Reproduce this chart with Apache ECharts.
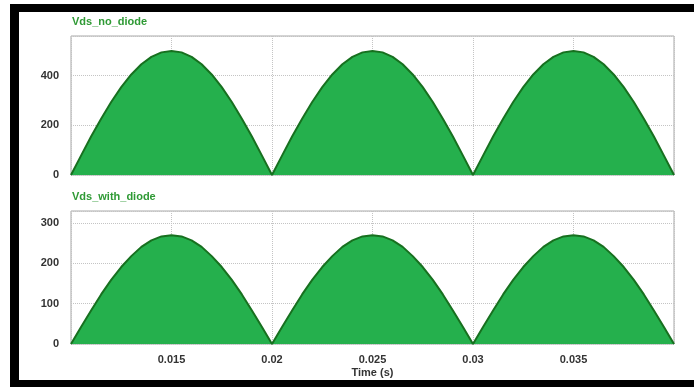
<!DOCTYPE html>
<html>
<head>
<meta charset="utf-8">
<script src="https://cdn.jsdelivr.net/npm/echarts@6/dist/echarts.min.js"></script>
<style>
  html, body { margin: 0; padding: 0; background: #fff; }
  #chart { width: 694px; height: 387px; }
</style>
</head>
<body>
<div id="chart"></div>
<script>
// Sample times (s), one sample every 0.5 ms over three half-cycles
const timeStart = 0.01;
const timeStep = 0.0005;

// Drain-source voltage without the diode (V)
const vdsNoDiode = [
  0, 78, 155, 227, 294, 354, 405, 446, 476, 494, 500, 494, 476, 446, 405, 354, 294, 227, 155, 78,
  0, 78, 155, 227, 294, 354, 405, 446, 476, 494, 500, 494, 476, 446, 405, 354, 294, 227, 155, 78,
  0, 78, 155, 227, 294, 354, 405, 446, 476, 494, 500, 494, 476, 446, 405, 354, 294, 227, 155, 78,
  0
];

// Drain-source voltage with the diode (V)
const vdsWithDiode = [
  0, 42, 83, 123, 159, 191, 218, 241, 257, 267, 270, 267, 257, 241, 218, 191, 159, 123, 83, 42,
  0, 42, 83, 123, 159, 191, 218, 241, 257, 267, 270, 267, 257, 241, 218, 191, 159, 123, 83, 42,
  0, 42, 83, 123, 159, 191, 218, 241, 257, 267, 270, 267, 257, 241, 218, 191, 159, 123, 83, 42,
  0
];

const panelTitles = ['Vds_no_diode', 'Vds_with_diode'];
const xTickLabels = ['0.015', '0.02', '0.025', '0.03', '0.035'];

const toPairs = (vals) => vals.map((v, i) => [+(timeStart + i * timeStep).toFixed(5), v]);

const fillColor = '#25b04d';
const lineColor = '#17701f';
const titleColor = '#2f9a35';
const labelStyle = { color: '#333', fontFamily: 'Liberation Sans, Arial, sans-serif', fontWeight: 'bold', fontSize: 11 };
const gridLine = { show: true, lineStyle: { color: '#c4c4c4', type: 'dotted', width: 1 } };

const chart = echarts.init(document.getElementById('chart'), null, { renderer: 'canvas' });

const xAxisBase = {
  type: 'value', min: 0.01, max: 0.04, interval: 0.005,
  axisLine: { show: false }, axisTick: { show: false },
  splitLine: gridLine
};
const yAxisBase = {
  type: 'value', min: 0,
  axisLine: { show: false }, axisTick: { show: false },
  splitLine: gridLine,
  axisLabel: Object.assign({ margin: 12, showMaxLabel: false }, labelStyle)
};

chart.setOption({
  backgroundColor: '#fff',
  animation: false,
  graphic: [
    { type: 'rect', shape: { x: 10, y: 4, width: 684, height: 8 }, style: { fill: '#000' } },
    { type: 'rect', shape: { x: 10, y: 4, width: 9, height: 383 }, style: { fill: '#000' } },
    { type: 'rect', shape: { x: 10, y: 380, width: 684, height: 7 }, style: { fill: '#000' } },
    { type: 'text', left: 72, top: 16, style: { text: panelTitles[0], fill: titleColor, font: 'bold 11px Liberation Sans, Arial, sans-serif' } },
    { type: 'text', left: 72, top: 191, style: { text: panelTitles[1], fill: titleColor, font: 'bold 11px Liberation Sans, Arial, sans-serif' } }
  ],
  grid: [
    { left: 71, right: 20, top: 36, height: 139, show: true, borderColor: '#a8a8a8', borderWidth: 1, backgroundColor: '#fff' },
    { left: 71, right: 20, top: 211, height: 133, show: true, borderColor: '#a8a8a8', borderWidth: 1, backgroundColor: '#fff' }
  ],
  xAxis: [
    Object.assign({}, xAxisBase, { gridIndex: 0, axisLabel: { show: false } }),
    Object.assign({}, xAxisBase, {
      gridIndex: 1,
      name: 'Time (s)', nameLocation: 'middle', nameGap: 23,
      nameTextStyle: labelStyle,
      axisLabel: Object.assign({
        margin: 10, showMinLabel: false, showMaxLabel: false,
        formatter: (v) => {
          const s = String(+v.toFixed(4));
          return xTickLabels.includes(s) ? s : '';
        }
      }, labelStyle)
    })
  ],
  yAxis: [
    Object.assign({}, yAxisBase, { gridIndex: 0, max: 560, interval: 200 }),
    Object.assign({}, yAxisBase, { gridIndex: 1, max: 330, interval: 100 })
  ],
  series: [
    {
      name: panelTitles[0], type: 'line', xAxisIndex: 0, yAxisIndex: 0,
      data: toPairs(vdsNoDiode), showSymbol: false, smooth: false,
      lineStyle: { color: lineColor, width: 2 },
      areaStyle: { color: fillColor, opacity: 1 }
    },
    {
      name: panelTitles[1], type: 'line', xAxisIndex: 1, yAxisIndex: 1,
      data: toPairs(vdsWithDiode), showSymbol: false, smooth: false,
      lineStyle: { color: lineColor, width: 2 },
      areaStyle: { color: fillColor, opacity: 1 }
    }
  ]
});
</script>
</body>
</html>
